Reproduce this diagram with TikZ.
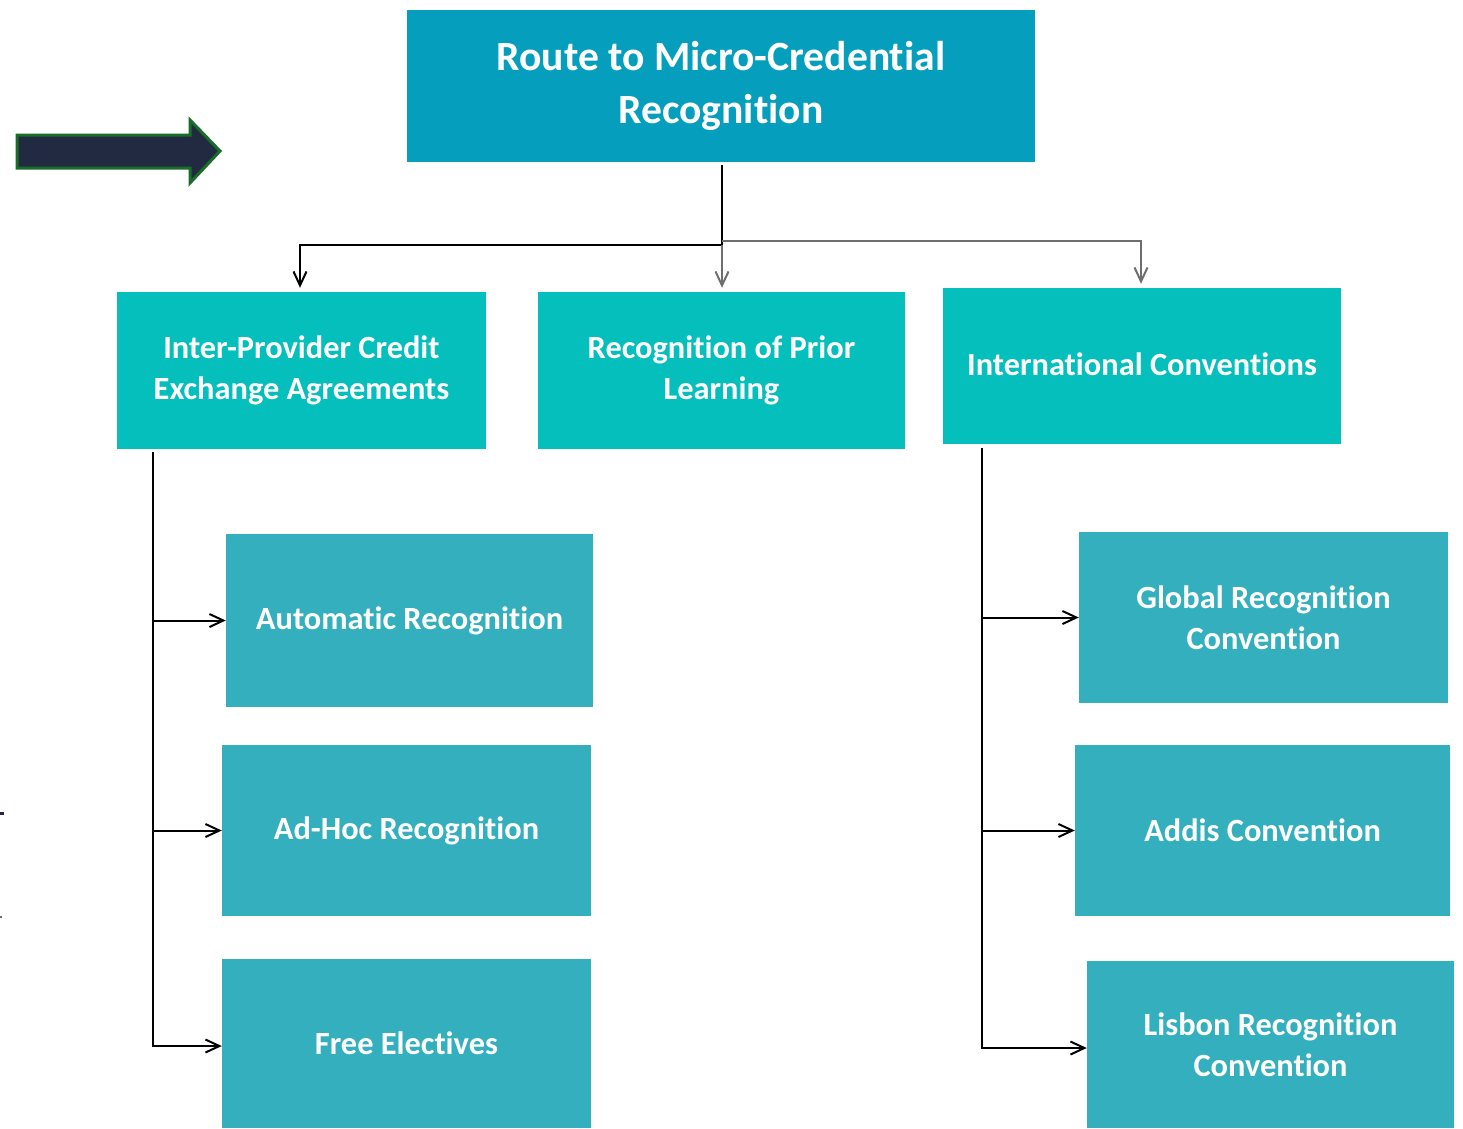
\documentclass[tikz,border=0pt]{standalone}
\usepackage{fontspec}
\setmainfont{Carlito}[Ligatures=NoCommon]
\usetikzlibrary{positioning,arrows.meta}
\definecolor{headblue}{RGB}{5,159,189}
\definecolor{routeteal}{RGB}{5,191,188}
\definecolor{leafteal}{RGB}{51,175,190}
\definecolor{navy}{RGB}{34,42,66}
\definecolor{arrowgreen}{RGB}{24,110,40}
\definecolor{linkgray}{RGB}{110,110,110}

\begin{document}
\begin{tikzpicture}[x=1pt,y=-1pt,
  every node/.style={rectangle,inner sep=0pt,text=white,font=\bfseries,align=center},
  titlebox/.style={fill=headblue,minimum width=628pt,minimum height=152pt,font=\fontsize{41.6}{53}\selectfont\bfseries},
  routebox/.style={fill=routeteal,minimum height=157pt,font=\fontsize{32.4}{40.5}\selectfont\bfseries},
  leafbox/.style={fill=leafteal,minimum height=171pt,font=\fontsize{32.4}{40.5}\selectfont\bfseries},
  link/.style={line width=2pt,-{Straight Barb[length=14pt,width=13pt,line width=2pt]}}]
\useasboundingbox (0,0) rectangle (1463,1128);
% big arrow on the left
\filldraw[fill=navy,draw=arrowgreen,line width=3pt,line join=miter]
  (17,135)--(190,135)--(190,120)--(220,151)--(190,183)--(190,168)--(17,168)--cycle;
\draw[navy,line width=3pt] (0,813)--(4,813);
\draw[linkgray,line width=2pt] (0,917)--(2,917);

\node[titlebox] (route) at (721,86) {Route to Micro-Credential\\Recognition};

\node[routebox,minimum width=369pt] (ipc) at (301.5,370.5) {Inter-Provider Credit\\Exchange Agreements};
\node[routebox,minimum width=367pt] (rpl) at (721.5,370.5) {Recognition of Prior\\Learning};
\node[routebox,minimum width=398pt,minimum height=156pt] (intl) at (1142,366) {\raisebox{3pt}{International Conventions}};

\node[leafbox,minimum width=367pt,minimum height=173pt] (auto) at (409.5,620.5) {Automatic Recognition};
\node[leafbox,minimum width=369pt] (adhoc) at (406.5,830.5) {Ad-Hoc Recognition};
\node[leafbox,minimum width=369pt,minimum height=169pt] (free) at (406.5,1043.5) {Free Electives};

\node[leafbox,minimum width=369pt] (global) at (1263.5,617.5) {Global Recognition\\Convention};
\node[leafbox,minimum width=375pt] (addis) at (1262.5,830.5) {Addis Convention};
\node[leafbox,minimum width=367pt,minimum height=167pt] (lisbon) at (1270.5,1044.5) {Lisbon Recognition\\Convention};

\coordinate (split) at (722,245);
\coordinate (splitr) at (722,241);
\coordinate (lbus) at (153,452);
\coordinate (rbus) at (982,448);

\draw[line width=2.5pt] (route.south) ++(1,3) -- (split);
\draw[link] (split) -| ([yshift=4pt]ipc.north -| 300,0);
\draw[link,linkgray] (split) -- ([yshift=4pt]rpl.north -| split);
\draw[link,linkgray] (splitr) -| ([yshift=4pt]intl.north -| 1141,0);

\draw[link] (lbus) |- (auto.west);
\draw[link] (lbus) |- (adhoc.west);
\draw[link] (lbus) |- ([yshift=-2.5pt]free.west);
\draw[link] (rbus) |- (global.west);
\draw[link] (rbus) |- (addis.west);
\draw[link] (rbus) |- ([yshift=-3.5pt]lisbon.west);
\end{tikzpicture}
\end{document}
